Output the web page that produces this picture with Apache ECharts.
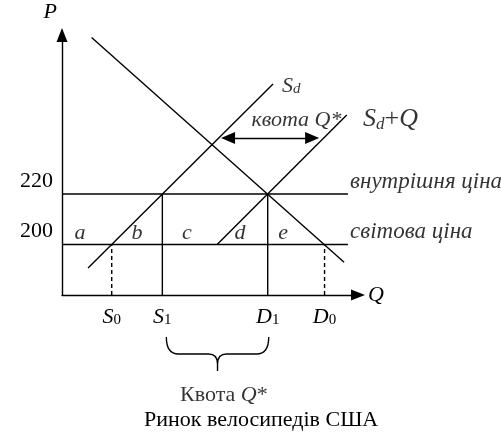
<!DOCTYPE html>
<html>
<head>
<meta charset="utf-8">
<script src="https://cdn.jsdelivr.net/npm/echarts@6/dist/echarts.min.js"></script>
<style>
html, body { margin: 0; padding: 0; background: #fff; }
#chart { width: 501px; height: 437px; }
</style>
</head>
<body>
<div id="chart"></div>
<script>
// ціни (вісь P)
var worldPrice = 200;
var domesticPrice = 220;
var priceTicks = [200, 220];

// кількості на осі Q
var qS0 = 16.8, qS1 = 33.9, qD1 = 69.5, qD0 = 88.7;
var qTicks = [qS0, qS1, qD1, qD0];
var qTickNames = [['S', '0'], ['S', '1'], ['D', '1'], ['D', '0']];

// криві
var demand = [[10, 282], [95.3, 193]];
var supplyDomestic = [[8.8, 190.7], [71.3, 263.6]];
var supplyWithQuota = [[52.4, 200], [96.2, 251.3]];
var priceLineEnd = 96.6;

// стрілка "квота Q*"
var quotaArrowQ = [56.1, 84.5];
var quotaArrowP = 242.2;

// площі a..e
var areaNames = ['a', 'b', 'c', 'd', 'e'];
var areaQ = [6.1, 25.3, 42.2, 60.1, 74.7];
var areaP = 205;

var FONT = '"Liberation Serif", "Times New Roman", serif';

var myChart = echarts.init(document.getElementById('chart'));

function seg(data, dashed) {
	return {
		type: 'line',
		data: data,
		symbol: 'none',
		silent: true,
		animation: false,
		lineStyle: { color: '#000', width: 1.4, type: dashed ? [4, 3] : 'solid' }
	};
}

var labelData = [];
areaNames.forEach(function (n, i) {
	labelData.push({ value: [areaQ[i], areaP], label: { formatter: '{i|' + n + '}', align: 'center' } });
});
labelData.push({ value: [74.3, 263.2], label: { formatter: '{i|S}{sub|d}', align: 'left' } });
labelData.push({ value: [79.2, 249.7], label: { formatter: '{i|квота Q*}', align: 'center' } });
labelData.push({ value: [101.7, 249.9], label: { formatter: '{big|S}{bigsub|d}{bigr|+}{big|Q}', align: 'left' } });
labelData.push({ value: [97.3, 224.8], label: { formatter: '{ic|внутрішня ціна}', align: 'left' } });
labelData.push({ value: [97.3, 205], label: { formatter: '{ic|світова ціна}', align: 'left' } });
labelData.push({ value: [54.7, 140.5], label: { formatter: '{r|Квота }{i|Q}{r|*}', align: 'center' } });

var rich = {
	i: { fontFamily: FONT, fontStyle: 'italic', fontSize: 22, color: '#000', verticalAlign: 'bottom', lineHeight: 24 },
	ic: { fontFamily: FONT, fontStyle: 'italic', fontSize: 23, color: '#000', verticalAlign: 'bottom', lineHeight: 24 },
	r: { fontFamily: FONT, fontSize: 22, color: '#000', verticalAlign: 'bottom', lineHeight: 24 },
	sub: { fontFamily: FONT, fontStyle: 'italic', fontSize: 15, color: '#000', verticalAlign: 'bottom', lineHeight: 15 },
	big: { fontFamily: FONT, fontStyle: 'italic', fontSize: 26, color: '#000', verticalAlign: 'bottom', lineHeight: 28 },
	bigr: { fontFamily: FONT, fontSize: 26, color: '#000', verticalAlign: 'bottom', lineHeight: 28 },
	bigsub: { fontFamily: FONT, fontStyle: 'italic', fontSize: 17, color: '#000', verticalAlign: 'bottom', lineHeight: 17 }
};

var option = {
	backgroundColor: '#fff',
	animation: false,
	title: {
		text: 'Ринок велосипедів США',
		left: 139,
		top: 404,
		textStyle: { fontFamily: FONT, fontSize: 22, fontWeight: 'normal', color: '#000' }
	},
	grid: { left: 62, top: 35, width: 296, height: 260, outerBoundsMode: 'none' },
	xAxis: {
		type: 'value',
		min: 0,
		max: 100,
		splitLine: { show: false },
		axisTick: { show: false },
		axisLine: {
			show: true,
			onZero: false,
			symbol: ['none', 'triangle'],
			symbolSize: [11, 14],
			lineStyle: { color: '#000', width: 1.4 }
		},
		axisLabel: {
			customValues: qTicks,
			margin: 9,
			formatter: function (v) {
				var k = qTicks.indexOf(v);
				if (k < 0) return '';
				return '{i|' + qTickNames[k][0] + '}{sub|' + qTickNames[k][1] + '}';
			},
			rich: {
				i: { fontFamily: FONT, fontStyle: 'italic', fontSize: 22, color: '#000', verticalAlign: 'bottom', lineHeight: 24 },
				sub: { fontFamily: FONT, fontSize: 15, color: '#000', verticalAlign: 'bottom', lineHeight: 15 }
			}
		},
		name: 'Q',
		nameLocation: 'end',
		nameGap: 10,
		nameTextStyle: { fontFamily: FONT, fontStyle: 'italic', fontSize: 22, color: '#000' }
	},
	yAxis: {
		type: 'value',
		min: 180,
		max: 283,
		splitLine: { show: false },
		axisTick: { show: false },
		axisLine: {
			show: true,
			onZero: false,
			symbol: ['none', 'triangle'],
			symbolSize: [11, 14],
			lineStyle: { color: '#000', width: 1.4 }
		},
		axisLabel: {
			customValues: priceTicks,
			margin: 9,
			verticalAlign: 'bottom',
			lineHeight: 26,
			fontFamily: FONT,
			fontSize: 22,
			color: '#000'
		},
		name: 'P',
		nameLocation: 'end',
		nameGap: 12,
		nameTextStyle: { fontFamily: FONT, fontStyle: 'italic', fontSize: 22, color: '#000', align: 'right', padding: [0, 5, 0, 0] }
	},
	series: [
		seg(demand),
		seg(supplyDomestic),
		(function () {
			var s = seg(supplyWithQuota);
			s.markLine = {
				silent: true,
				animation: false,
				symbol: ['triangle', 'triangle'],
				symbolSize: [12, 14],
				label: { show: false },
				lineStyle: { color: '#000', width: 1.4, type: 'solid' },
				data: [[{ coord: [quotaArrowQ[0], quotaArrowP] }, { coord: [quotaArrowQ[1], quotaArrowP] }]]
			};
			return s;
		})(),
		seg([[0, domesticPrice], [priceLineEnd, domesticPrice]]),
		seg([[0, worldPrice], [priceLineEnd, worldPrice]]),
		seg([[qS1, 180], [qS1, domesticPrice]]),
		seg([[qD1, 180], [qD1, domesticPrice]]),
		seg([[qS0, 180], [qS0, worldPrice]], true),
		seg([[qD0, 180], [qD0, worldPrice]], true),
		{
			// фігурна дужка під S1..D1
			type: 'custom',
			silent: true,
			data: [[qS1, qD1]],
			renderItem: function (params, api) {
				var a = api.coord([api.value(0), 180]);
				var b = api.coord([api.value(1), 180]);
				var x0 = a[0] + 4, x1 = b[0] + 1, xm = (x0 + x1) / 2;
				var y0 = a[1] + 42, yh = y0 + 17;
				var d = 'M' + x0 + ',' + y0 + ' Q' + x0 + ',' + yh + ' ' + (x0 + 12) + ',' + yh +
					' L' + (xm - 9) + ',' + yh + ' Q' + xm + ',' + yh + ' ' + xm + ',' + (yh + 10) +
					' L' + xm + ',' + (yh + 17) + ' M' + xm + ',' + (yh + 10) +
					' Q' + xm + ',' + yh + ' ' + (xm + 9) + ',' + yh +
					' L' + (x1 - 12) + ',' + yh + ' Q' + x1 + ',' + yh + ' ' + x1 + ',' + y0;
				return {
					type: 'path',
					shape: { pathData: d },
					style: { fill: 'none', stroke: '#000', lineWidth: 1.4 }
				};
			}
		},
		{
			type: 'scatter',
			silent: true,
			clip: false,
			symbolSize: 0,
			data: labelData,
			label: {
				show: true,
				position: 'inside',
				verticalAlign: 'middle',
				rich: rich
			}
		}
	]
};

myChart.setOption(option);
</script>
</body>
</html>
